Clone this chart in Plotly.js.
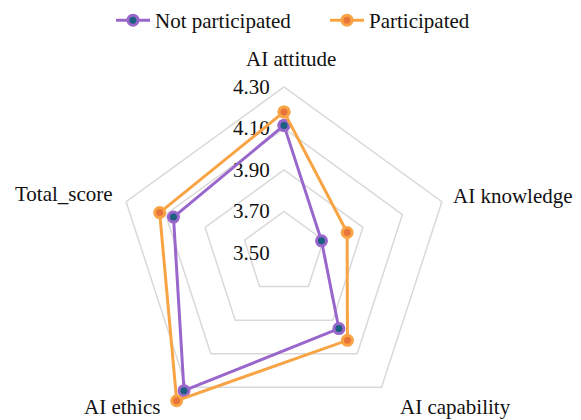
<!DOCTYPE html>
<html>
<head>
<meta charset="utf-8">
<script src="https://cdn.plot.ly/plotly-3.0.1.min.js"></script>
<style>html,body{margin:0;padding:0;background:#fff;width:581px;height:420px;overflow:hidden;}#chart{width:581px;height:470px;}</style>
</head>
<body>
<div id="chart"></div>
<script>
const categories = ['AI attitude', 'AI knowledge', 'AI capability', 'AI ethics', 'Total_score'];
const notParticipated = [4.115, 3.69, 3.95, 4.32, 4.06];
const participated = [4.18, 3.82, 4.02, 4.38, 4.13];
const radialTicks = [3.5, 3.7, 3.9, 4.1, 4.3];
const radialTickText = ['3.50', '3.70', '3.90', '4.10', '4.30'];

const closeLoop = a => a.concat([a[0]]);
const FAM = 'Liberation Serif, Times New Roman, serif';
const mkFont = () => ({family: FAM, size: 21, color: '#111'});

const W = 581, H = 470;  // layout taller than the window; the extra part is cut off
const cx = 284, cy = 253, pxPerUnit = 207.5;
const gridRange = [3.5, 4.3];
const dataRange = [3.5, 4.5];
function dom(range) {
  const R = (range[1] - range[0]) * pxPerUnit;
  return {x: [(cx - R) / W, (cx + R) / W], y: [(H - (cy + R)) / H, (H - (cy - R)) / H]};
}

// angular category label placement (pixel anchor + alignment)
const labelPos = [
  {x: 290.5, y: 59, xanchor: 'center'},
  {x: 452, y: 195.5, xanchor: 'left'},
  {x: 399, y: 407, xanchor: 'left'},
  {x: 161, y: 407, xanchor: 'right'},
  {x: 114, y: 194.5, xanchor: 'right'}
];
const annotations = categories.map((c, i) => ({
  text: c, xref: 'paper', yref: 'paper',
  x: labelPos[i].x / W, y: (H - labelPos[i].y) / H,
  xanchor: labelPos[i].xanchor, yanchor: 'middle',
  showarrow: false, font: mkFont(), borderpad: 0
}));

const traces = [
  {
    type: 'scatterpolar', subplot: 'polar', showlegend: false, hoverinfo: 'skip',
    r: notParticipated, theta: categories, mode: 'markers', marker: {opacity: 0}
  },
  {
    type: 'scatterpolar', subplot: 'polar2', name: 'Not participated',
    r: closeLoop(notParticipated), theta: closeLoop(categories),
    mode: 'lines+markers', cliponaxis: false,
    line: {color: '#9966cc', width: 3},
    marker: {size: 10, color: '#1d5f80', line: {color: '#9966cc', width: 3}}
  },
  {
    type: 'scatterpolar', subplot: 'polar2', name: 'Participated',
    r: closeLoop(participated), theta: closeLoop(categories),
    mode: 'lines+markers', cliponaxis: false,
    line: {color: '#f8a445', width: 3},
    marker: {size: 10, color: '#e8743b', line: {color: '#f8a445', width: 3}}
  }
];

const layout = {
  width: W, height: H,
  margin: {l: 0, r: 0, t: 0, b: 0},
  paper_bgcolor: '#fff',
  font: mkFont(),
  showlegend: true,
  legend: {orientation: 'h', x: 111 / W, xanchor: 'left', y: 1.0, yanchor: 'top',
           font: mkFont(), entrywidth: 165, itemwidth: 34},
  annotations: annotations,
  polar: {
    domain: dom(gridRange),
    gridshape: 'linear',
    bgcolor: 'rgba(0,0,0,0)',
    radialaxis: {
      range: gridRange, tickvals: radialTicks,
      ticktext: radialTickText.map(t => t + '\u00a0\u00a0'),
      angle: 90, side: 'counterclockwise', tickangle: 90,
      showline: false, ticks: '', gridcolor: '#d9d9d9', gridwidth: 1.5,
      tickfont: mkFont()
    },
    angularaxis: {
      direction: 'clockwise', rotation: 90,
      showgrid: false, showline: true, linecolor: '#d9d9d9', linewidth: 1.5,
      ticks: '', showticklabels: false
    }
  },
  polar2: {
    domain: dom(dataRange),
    gridshape: 'linear',
    bgcolor: 'rgba(0,0,0,0)',
    radialaxis: {range: dataRange, visible: false, showgrid: false, showline: false},
    angularaxis: {direction: 'clockwise', rotation: 90, visible: false,
                  showgrid: false, showline: false, showticklabels: false}
  }
};

Plotly.newPlot('chart', traces, layout, {displayModeBar: false, staticPlot: true});
</script>
</body>
</html>
